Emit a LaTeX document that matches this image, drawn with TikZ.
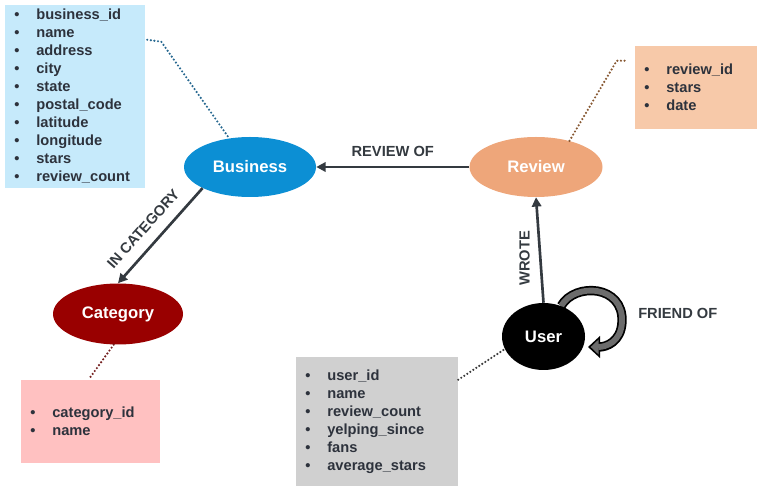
\documentclass[tikz,border=0pt]{standalone}
\usepackage{fontspec}
\setmainfont{Liberation Sans}
\usetikzlibrary{shapes.geometric,arrows.meta,calc}
\definecolor{bizfill}{RGB}{198,234,251}
\definecolor{bizell}{RGB}{12,143,212}
\definecolor{revell}{RGB}{238,166,122}
\definecolor{revfill}{RGB}{247,201,169}
\definecolor{catell}{RGB}{153,0,0}
\definecolor{catfill}{RGB}{255,193,193}
\definecolor{userfill}{RGB}{208,208,208}
\definecolor{txt}{RGB}{45,50,60}
\definecolor{edgec}{RGB}{52,58,64}
\definecolor{loopgray}{RGB}{108,108,108}
\definecolor{dotbiz}{RGB}{40,105,145}
\definecolor{dotrev}{RGB}{135,88,50}
\definecolor{dotcat}{RGB}{115,30,30}
\definecolor{dotuser}{RGB}{60,60,60}
\newcommand\bitem{\makebox[16.5pt][l]{\textbullet}}
\pgfdeclarelayer{bg}
\pgfsetlayers{bg,main}
\begin{document}
\begin{tikzpicture}[x=0.75pt,y=-0.75pt,
  reltip/.tip={Triangle[length=7pt,width=7pt]},
  ent/.style={ellipse, inner sep=0pt, text=white, font=\bfseries\fontsize{12.5}{15}\selectfont},
  attrbox/.style={rectangle, inner xsep=7pt, inner ysep=0pt, text=txt, align=left,
     font=\bfseries\fontsize{11}{13.5}\selectfont},
  reledge/.style={draw=edgec, line width=2pt},
  lbl/.style={text=edgec, font=\bfseries\fontsize{11}{13}\selectfont, inner sep=1pt},
  dotline/.style={line width=1.8pt, dash pattern=on 0pt off 2.7pt, line cap=round}
]
\useasboundingbox (0,0) rectangle (760,491);

% attribute boxes
\node[attrbox, fill=bizfill, text width=91pt, minimum height=137.25pt] (bizbox) at (75,96.5)
 {\bitem business\_id\\\bitem name\\\bitem address\\\bitem city\\\bitem state\\\bitem postal\_code\\\bitem latitude\\\bitem longitude\\\bitem stars\\\bitem review\_count};
\node[attrbox, fill=revfill, text width=77.5pt, minimum height=62.25pt] (revbox) at (696,87.5)
 {\bitem review\_id\\\bitem stars\\\bitem date};
\node[attrbox, fill=catfill, text width=90.25pt, minimum height=62.25pt] (catbox) at (90.5,421.5)
 {\bitem category\_id\\\bitem name};
\node[attrbox, fill=userfill, text width=107.5pt, minimum height=96.75pt] (userbox) at (377,421.5)
 {\bitem user\_id\\\bitem name\\\bitem review\_count\\\bitem yelping\_since\\\bitem fans\\\bitem average\_stars};

% entities
\node[ent, fill=bizell, minimum width=99pt, minimum height=45pt] (business) at (250,167) {Business};
\node[ent, fill=revell, minimum width=99.75pt, minimum height=45pt] (review) at (536,167) {Review};
\node[ent, fill=catell, minimum width=97.5pt, minimum height=45.75pt] (category) at (118,314) {Category};
\node[ent, fill=black, minimum width=62.25pt, minimum height=50.25pt] (user) at (543.5,336.5) {User};

% relationships
\draw[reledge, -reltip] (review.west) -- (business.east)
  node[lbl, midway, above=6pt] {REVIEW OF};
\draw[reledge, reltip-] (category.north) -- (business.204)
  node[lbl, pos=0.45, sloped, above=7pt] {IN CATEGORY};
\draw[reledge, -reltip] (user.north) -- (review.south)
  node[lbl, pos=0.42, rotate=90, above=6pt] {WROTE};

\begin{pgfonlayer}{bg}
\draw[line width=7pt, black, -{Triangle[length=9pt,width=16pt]}]
  (user.60) .. controls (575,282) and (624,285) .. (622,322)
  .. controls (621,342) and (606,347) .. ($(user.center)+(44.5,10.5)$);
\draw[line width=4.4pt, loopgray, -{Triangle[length=6pt,width=11pt]}, shorten >=2pt]
  (user.60) .. controls (575,282) and (624,285) .. (622,322)
  node[lbl, anchor=west, xshift=9pt, yshift=6.5pt] (friendlbl) {FRIEND OF}
  .. controls (621,342) and (606,347) .. ($(user.center)+(44.5,10.5)$);
\end{pgfonlayer}

% attribute links
\draw[dotline, dotbiz] ($(bizbox.north east)+(2,35)$) -- ++(14,2) -- (business.126);
\draw[dotline, dotrev] (review.38) -- ($(revbox.north west)+(-18,15)$) -- ($(revbox.north west)+(-10,15)$);
\draw[dotline, dotcat] (category.262) -- ($(catbox.north)+(-2,0)$);
\draw[dotline, dotuser] ($(userbox.north east)+(0,23)$) -- (user.198);
\end{tikzpicture}
\end{document}
